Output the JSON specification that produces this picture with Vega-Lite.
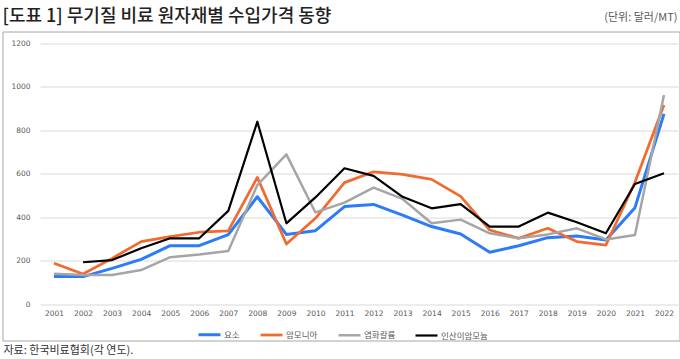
{
  "$schema": "https://vega.github.io/schema/vega-lite/v6.json",
  "autosize": {"type": "none"},
  "padding": {"left": 2.5, "top": 31.5, "right": 0.5, "bottom": 18.5},
  "width": 677,
  "height": 309,
  "background": "white",
  "title": {
    "text": "[도표 1] 무기질 비료 원자재별 수입가격 동향",
    "anchor": "start",
    "frame": "group",
    "font": "Noto Sans CJK KR",
    "fontSize": 18,
    "fontWeight": 500,
    "color": "#222222",
    "offset": -14
  },
  "data": {
    "values": [
      {"year": 2001, "item": "요소", "price": 126},
      {"year": 2002, "item": "요소", "price": 126},
      {"year": 2003, "item": "요소", "price": 164},
      {"year": 2004, "item": "요소", "price": 205},
      {"year": 2005, "item": "요소", "price": 268},
      {"year": 2006, "item": "요소", "price": 268},
      {"year": 2007, "item": "요소", "price": 319},
      {"year": 2008, "item": "요소", "price": 493},
      {"year": 2009, "item": "요소", "price": 320},
      {"year": 2010, "item": "요소", "price": 337},
      {"year": 2011, "item": "요소", "price": 448},
      {"year": 2012, "item": "요소", "price": 458},
      {"year": 2013, "item": "요소", "price": 409},
      {"year": 2014, "item": "요소", "price": 356},
      {"year": 2015, "item": "요소", "price": 322},
      {"year": 2016, "item": "요소", "price": 238},
      {"year": 2017, "item": "요소", "price": 268},
      {"year": 2018, "item": "요소", "price": 305},
      {"year": 2019, "item": "요소", "price": 313},
      {"year": 2020, "item": "요소", "price": 294},
      {"year": 2021, "item": "요소", "price": 443},
      {"year": 2022, "item": "요소", "price": 874},
      {"year": 2001, "item": "암모니아", "price": 187},
      {"year": 2002, "item": "암모니아", "price": 138},
      {"year": 2003, "item": "암모니아", "price": 210},
      {"year": 2004, "item": "암모니아", "price": 287},
      {"year": 2005, "item": "암모니아", "price": 310},
      {"year": 2006, "item": "암모니아", "price": 330},
      {"year": 2007, "item": "암모니아", "price": 336},
      {"year": 2008, "item": "암모니아", "price": 582},
      {"year": 2009, "item": "암모니아", "price": 276},
      {"year": 2010, "item": "암모니아", "price": 394},
      {"year": 2011, "item": "암모니아", "price": 558},
      {"year": 2012, "item": "암모니아", "price": 608},
      {"year": 2013, "item": "암모니아", "price": 596},
      {"year": 2014, "item": "암모니아", "price": 573},
      {"year": 2015, "item": "암모니아", "price": 495},
      {"year": 2016, "item": "암모니아", "price": 340},
      {"year": 2017, "item": "암모니아", "price": 302},
      {"year": 2018, "item": "암모니아", "price": 348},
      {"year": 2019, "item": "암모니아", "price": 287},
      {"year": 2020, "item": "암모니아", "price": 271},
      {"year": 2021, "item": "암모니아", "price": 560},
      {"year": 2022, "item": "암모니아", "price": 915},
      {"year": 2001, "item": "염화칼륨", "price": 139},
      {"year": 2002, "item": "염화칼륨", "price": 133},
      {"year": 2003, "item": "염화칼륨", "price": 133},
      {"year": 2004, "item": "염화칼륨", "price": 156},
      {"year": 2005, "item": "염화칼륨", "price": 215},
      {"year": 2006, "item": "염화칼륨", "price": 228},
      {"year": 2007, "item": "염화칼륨", "price": 244},
      {"year": 2008, "item": "염화칼륨", "price": 547},
      {"year": 2009, "item": "염화칼륨", "price": 688},
      {"year": 2010, "item": "염화칼륨", "price": 421},
      {"year": 2011, "item": "염화칼륨", "price": 466},
      {"year": 2012, "item": "염화칼륨", "price": 535},
      {"year": 2013, "item": "염화칼륨", "price": 483},
      {"year": 2014, "item": "염화칼륨", "price": 371},
      {"year": 2015, "item": "염화칼륨", "price": 388},
      {"year": 2016, "item": "염화칼륨", "price": 325},
      {"year": 2017, "item": "염화칼륨", "price": 302},
      {"year": 2018, "item": "염화칼륨", "price": 320},
      {"year": 2019, "item": "염화칼륨", "price": 348},
      {"year": 2020, "item": "염화칼륨", "price": 297},
      {"year": 2021, "item": "염화칼륨", "price": 317},
      {"year": 2022, "item": "염화칼륨", "price": 961},
      {"year": 2002, "item": "인산이암모늄", "price": 192},
      {"year": 2003, "item": "인산이암모늄", "price": 202},
      {"year": 2004, "item": "인산이암모늄", "price": 256},
      {"year": 2005, "item": "인산이암모늄", "price": 302},
      {"year": 2006, "item": "인산이암모늄", "price": 302},
      {"year": 2007, "item": "인산이암모늄", "price": 428},
      {"year": 2008, "item": "인산이암모늄", "price": 838},
      {"year": 2009, "item": "인산이암모늄", "price": 371},
      {"year": 2010, "item": "인산이암모늄", "price": 490},
      {"year": 2011, "item": "인산이암모늄", "price": 624},
      {"year": 2012, "item": "인산이암모늄", "price": 589},
      {"year": 2013, "item": "인산이암모늄", "price": 493},
      {"year": 2014, "item": "인산이암모늄", "price": 440},
      {"year": 2015, "item": "인산이암모늄", "price": 459},
      {"year": 2016, "item": "인산이암모늄", "price": 356},
      {"year": 2017, "item": "인산이암모늄", "price": 356},
      {"year": 2018, "item": "인산이암모늄", "price": 420},
      {"year": 2019, "item": "인산이암모늄", "price": 376},
      {"year": 2020, "item": "인산이암모늄", "price": 325},
      {"year": 2021, "item": "인산이암모늄", "price": 552},
      {"year": 2022, "item": "인산이암모늄", "price": 601}
    ]
  },
  "mark": {"type": "line", "strokeJoin": "round", "strokeCap": "butt"},
  "encoding": {
    "x": {
      "field": "year",
      "type": "quantitative",
      "scale": {"domain": [1999.227, 2022.534], "nice": false, "zero": false},
      "axis": {
        "orient": "bottom",
        "offset": -33.5,
        "values": [2001, 2002, 2003, 2004, 2005, 2006, 2007, 2008, 2009, 2010, 2011, 2012, 2013, 2014, 2015, 2016, 2017, 2018, 2019, 2020, 2021, 2022],
        "format": "d",
        "grid": false,
        "domain": false,
        "ticks": false,
        "labelPadding": 2,
        "labelFont": "DejaVu Sans",
        "labelFontSize": 7.5,
        "labelColor": "#595959",
        "title": "자료: 한국비료협회(각 연도).",
        "titleFont": "Noto Sans CJK KR",
        "titleFontSize": 11,
        "titleFontWeight": "normal",
        "titleColor": "#333333",
        "titleAnchor": "start",
        "titleAlign": "left",
        "titleBaseline": "middle",
        "titleX": 0.5,
        "titleY": 43
      }
    },
    "y": {
      "field": "price",
      "type": "quantitative",
      "scale": {"domain": [-167.8, 1252.9], "nice": false, "zero": false},
      "axis": {
        "orient": "left",
        "offset": -29.5,
        "values": [0, 200, 400, 600, 800, 1000, 1200],
        "format": "d",
        "domain": false,
        "ticks": false,
        "labelPadding": 2,
        "labelFont": "DejaVu Sans",
        "labelFontSize": 7.5,
        "labelColor": "#595959",
        "grid": true,
        "gridColor": "#d9d9d9",
        "gridWidth": 1,
        "gridDash": [638, 39],
        "gridDashOffset": 639.5,
        "title": "(단위: 달러/MT)",
        "titleFont": "Noto Sans CJK KR",
        "titleFontSize": 11,
        "titleFontWeight": "normal",
        "titleColor": "#595959",
        "titleAngle": 0,
        "titleAlign": "right",
        "titleBaseline": "middle",
        "titleX": 645,
        "titleY": -14
      }
    },
    "color": {
      "field": "item",
      "type": "nominal",
      "scale": {
        "domain": ["요소", "암모니아", "염화칼륨", "인산이암모늄"],
        "range": ["#2b7cf6", "#f26a2e", "#a5a5a5", "#000000"]
      },
      "legend": {
        "title": null,
        "orient": "none",
        "legendX": 194.5,
        "legendY": 290.5,
        "direction": "horizontal",
        "symbolType": "stroke",
        "symbolSize": 484,
        "labelFont": "Noto Sans CJK KR",
        "labelFontSize": 8.5,
        "labelColor": "#595959",
        "labelOffset": 2,
        "columnPadding": 15
      }
    },
    "strokeWidth": {
      "field": "item",
      "type": "nominal",
      "scale": {
        "domain": ["요소", "암모니아", "염화칼륨", "인산이암모늄"],
        "range": [3, 2.2, 2.2, 2.2]
      }
    }
  },
  "config": {
    "view": {"stroke": "#a6a6a6", "strokeWidth": 1}
  }
}
